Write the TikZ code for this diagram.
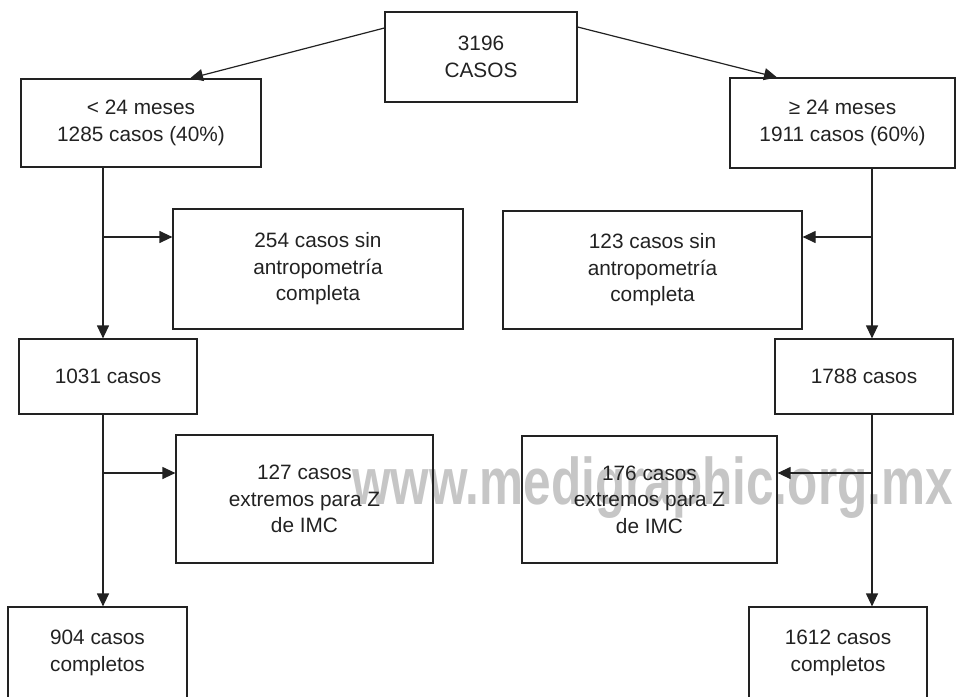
\documentclass[tikz,border=0pt]{standalone}
\usepackage{fontspec}
\setmainfont{Liberation Sans}
\usetikzlibrary{arrows.meta}
\definecolor{ink}{HTML}{222222}
\definecolor{wm}{HTML}{C6C6C6}
\tikzset{
  box/.style={draw=ink, line width=1.2pt, align=center, inner sep=0pt,
    font=\fontsize{20.8}{26.5}\selectfont, text=ink},
  arr/.style={draw=ink, line width=1.2pt, -{Triangle[length=13pt,width=12pt]}}
}
\begin{document}
\begin{tikzpicture}[x=1pt,y=-1pt]
\useasboundingbox (0,0) rectangle (957,696);
% watermark
\node[anchor=base west, inner sep=0pt, text=wm,
  font=\fontsize{66}{66}\selectfont\bfseries] (wmk) at (352,504) {\scalebox{0.75}[1]{www.medigraphic.org.mx}};
% boxes
\node[box, minimum width=192pt, minimum height=90pt] (top) at (481,57) {3196\\CASOS};
\node[box, minimum width=240pt, minimum height=88pt] (L1) at (141,123) {< 24 meses\\1285 casos (40\%)};
\node[box, minimum width=225pt, minimum height=90pt] (R1) at (842.5,123) {≥ 24 meses\\1911 casos (60\%)};
\node[box, minimum width=290pt, minimum height=120pt] (L2) at (318,269) {254 casos sin\\antropometría\\completa};
\node[box, minimum width=299pt, minimum height=118pt] (R2) at (652.5,270) {123 casos sin\\antropometría\\completa};
\node[box, minimum width=178pt, minimum height=75pt] (L3) at (108,376.5) {1031 casos};
\node[box, minimum width=178pt, minimum height=75pt] (R3) at (864,376.5) {1788 casos};
\node[box, minimum width=257pt, minimum height=128pt] (L4) at (304.5,499) {127 casos\\extremos para Z\\de IMC};
\node[box, minimum width=255pt, minimum height=127pt] (R4) at (649.5,499.5) {176 casos\\extremos para Z\\de IMC};
\node[box, minimum width=179pt, minimum height=92pt] (L5) at (97.5,653) {904 casos\\completos};
\node[box, minimum width=178pt, minimum height=92pt] (R5) at (838,653) {1612 casos\\completos};
% junctions
\coordinate (jL1) at (103,237);
\coordinate (jL3) at (103,473);
\coordinate (jR1) at (872,237);
\coordinate (jR3) at (872,473);
% top arrows
\draw[arr] ([yshift=29pt]top.west) -- ([xshift=49pt]L1.north);
\draw[arr] ([yshift=30pt]top.east) -- ([xshift=-65.5pt]R1.north);
% left column
\draw[arr] (L1.south -| jL1) -- (L3.north -| jL1);
\draw[arr] (jL1) -- (jL1 -| L2.west);
\draw[arr] (L3.south -| jL3) -- (L5.north -| jL3);
\draw[arr] (jL3) -- (jL3 -| L4.west);
% right column
\draw[arr] (R1.south -| jR1) -- (R3.north -| jR1);
\draw[arr] (jR1) -- (jR1 -| R2.east);
\draw[arr] (R3.south -| jR3) -- (R5.north -| jR3);
\draw[arr] (jR3) -- (jR3 -| R4.east);
\end{tikzpicture}
\end{document}
